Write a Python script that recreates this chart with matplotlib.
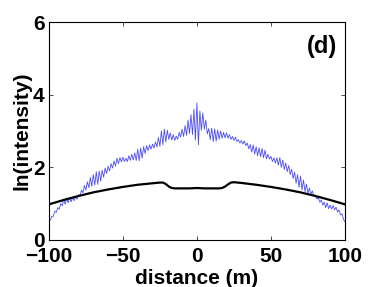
import numpy as np
import matplotlib
matplotlib.use("Agg")
import matplotlib.pyplot as plt

plt.rcParams['font.family'] = ['Liberation Sans', 'DejaVu Sans']
plt.rcParams['font.weight'] = 'bold'

# measured profile, one sample per metre from -100 to 100
distance = list(range(-100, 101))
measured = [
    0.54, 0.55, 0.65, 0.65, 0.79, 0.76, 0.89, 0.85, 1.00, 0.94,
    1.13, 0.98, 1.16, 1.02, 1.17, 1.05, 1.17, 1.08, 1.20, 1.12,
    1.25, 1.21, 1.37, 1.30, 1.50, 1.37, 1.60, 1.44, 1.72, 1.48,
    1.80, 1.51, 1.88, 1.53, 1.90, 1.62, 1.92, 1.73, 1.98, 1.83,
    2.03, 1.90, 2.10, 1.98, 2.18, 2.03, 2.25, 2.10, 2.27, 2.15,
    2.28, 2.16, 2.25, 2.16, 2.32, 2.19, 2.36, 2.20, 2.40, 2.19,
    2.50, 2.18, 2.53, 2.25, 2.57, 2.38, 2.60, 2.46, 2.62, 2.50,
    2.64, 2.53, 2.70, 2.56, 2.82, 2.58, 3.00, 2.62, 3.05, 2.70,
    3.02, 2.77, 2.95, 2.75, 2.90, 2.74, 2.86, 2.77, 2.96, 2.83,
    3.05, 2.85, 3.15, 2.88, 3.30, 2.93, 3.45, 2.90, 3.60, 2.75,
    3.78,
    2.62, 3.55, 3.02, 3.50, 3.05, 3.30, 2.92, 3.07, 2.76, 3.08,
    2.71, 3.06, 2.72, 3.03, 2.77, 3.00, 2.80, 2.96, 2.81, 2.95,
    2.80, 2.90, 2.77, 2.85, 2.74, 2.83, 2.71, 2.76, 2.67, 2.74,
    2.64, 2.73, 2.60, 2.67, 2.51, 2.63, 2.42, 2.62, 2.36, 2.57,
    2.32, 2.54, 2.29, 2.52, 2.26, 2.47, 2.23, 2.36, 2.23, 2.30,
    2.16, 2.26, 2.12, 2.26, 2.06, 2.27, 2.00, 2.20, 1.94, 2.12,
    1.88, 2.05, 1.80, 1.95, 1.69, 1.87, 1.56, 1.80, 1.45, 1.76,
    1.38, 1.65, 1.33, 1.54, 1.28, 1.43, 1.26, 1.35, 1.21, 1.23,
    1.13, 1.16, 1.04, 1.10, 0.96, 1.04, 0.89, 1.02, 0.86, 0.96,
    0.85, 0.95, 0.83, 0.90, 0.77, 0.83, 0.69, 0.72, 0.57, 0.50,
]

# model curve
model_x = [-100, -90, -80, -70, -60, -50, -40, -30, -25, -23, -21, -19, -17,
           -15, -10, -5, 0, 5, 10, 15, 17, 19, 21, 23, 25, 30, 40, 50, 60,
           70, 80, 90, 100]
model_y = [0.98, 1.10, 1.21, 1.31, 1.39, 1.46, 1.52, 1.56, 1.58, 1.58, 1.54,
           1.47, 1.43, 1.42, 1.42, 1.42, 1.43, 1.42, 1.42, 1.42, 1.43, 1.47,
           1.53, 1.58, 1.59, 1.57, 1.52, 1.46, 1.39, 1.31, 1.21, 1.10, 0.98]

fig = plt.figure(figsize=(3.82, 2.87), dpi=100)
ax = fig.add_axes([0.128, 0.164, 0.775, 0.759])

ax.plot(distance, measured, color='#4a4aff', lw=0.6)
ax.plot(model_x, model_y, color='black', lw=1.6)

ax.set_xlim(-100, 100)
ax.set_ylim(0, 6)
ax.set_xticks([-100, -50, 0, 50, 100])
ax.set_yticks([0, 2, 4, 6])
ax.tick_params(direction='in', top=True, right=True, labelsize=15,
               length=3, width=0.5)
ax.tick_params(axis='x', pad=5)
ax.tick_params(axis='y', pad=3)
for s in ax.spines.values():
    s.set_linewidth(0.8)

ax.set_xlabel('distance (m)', fontsize=15, fontweight='bold', labelpad=2)
ax.set_ylabel('ln(intensity)', fontsize=15, fontweight='bold', labelpad=1)
ax.text(84.5, 5.33, '(d)', fontsize=17, fontweight='bold',
        ha='center', va='center')

fig.savefig('out.png', dpi=100)
